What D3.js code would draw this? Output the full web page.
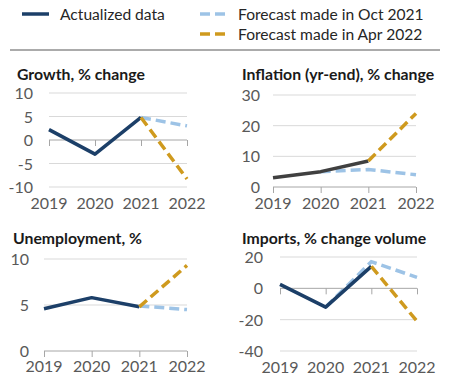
<!DOCTYPE html>
<html lang="en">

<head>
    <meta charset="UTF-8">
    <title>Forecast panels</title>
    <script src="https://d3js.org/d3.v7.min.js"></script>
    <style>
        body { margin: 0; background: #fff; }
        text { font-family: Lato, "Open Sans", sans-serif; }
    </style>
</head>

<body>
    <script>
        var years = [2019, 2020, 2021, 2022];

        // actualized, Oct 2021 forecast, Apr 2022 forecast (null = no point)
        var growthActual = [2.2, -3, 4.8, null];
        var growthOct = [null, null, 4.8, 3];
        var growthApr = [null, null, 4.8, -8.3];

        var inflationActual = [3, 5, 8.5, null];
        var inflationOct = [null, 5, 5.7, 4];
        var inflationApr = [null, null, 8.5, 24];

        var unempActual = [4.6, 5.8, 4.8, null];
        var unempOct = [null, null, 4.9, 4.5];
        var unempApr = [null, null, 4.8, 9.3];

        var importsActual = [2.5, -12, 14, null];
        var importsOct = [null, -12, 17, 7];
        var importsApr = [null, null, 14, -21];

        var growthTicks = [-10, -5, 0, 5, 10];
        var inflationTicks = [0, 10, 20, 30];
        var unempTicks = [0, 5, 10];
        var importsTicks = [-40, -20, 0, 20];

        var legendLabels = ["Actualized data", "Forecast made in Oct 2021", "Forecast made in Apr 2022"];

        var width = 457, height = 382;
        var navy = "#1c3f68", blue = "#9dc3e6", gold = "#cf9a1e", darkGray = "#404040";

        var svg = d3.select("body").append("svg")
            .attr("width", width)
            .attr("height", height);

        // legend
        var legend = [
            { x: 22, y: 14, color: navy, dash: null, label: legendLabels[0] },
            { x: 200, y: 14, color: blue, dash: "10,5", label: legendLabels[1] },
            { x: 200, y: 34, color: gold, dash: "10,5", label: legendLabels[2] }
        ];
        var lg = svg.selectAll("g.legend").data(legend).enter().append("g").attr("class", "legend");
        lg.append("line")
            .attr("x1", d => d.x).attr("x2", d => d.x + 27)
            .attr("y1", d => d.y).attr("y2", d => d.y)
            .attr("stroke", d => d.color).attr("stroke-width", 3.5)
            .attr("stroke-dasharray", d => d.dash);
        lg.append("text")
            .attr("x", d => d.x + 38).attr("y", d => d.y + 5.5)
            .attr("font-size", 15.6).attr("fill", "#262626")
            .text(d => d.label);
        svg.append("line")
            .attr("x1", 10).attr("x2", 440).attr("y1", 50).attr("y2", 50)
            .attr("stroke", "#595959").attr("stroke-width", 1.2);

        var panels = [
            { title: "Growth, % change", tx: 17, ty: 80, x0: 49, x1: 187, y0: 187, y1: 93, ticks: growthTicks, labelY: 209, yOff: 16,
              actual: growthActual, actualColor: navy, oct: growthOct, apr: growthApr },
            { title: "Inflation (yr-end), % change", tx: 242, ty: 80, x0: 273, x1: 416, y0: 187, y1: 95, ticks: inflationTicks, labelY: 209, yOff: 13,
              actual: inflationActual, actualColor: darkGray, oct: inflationOct, apr: inflationApr },
            { title: "Unemployment, %", tx: 13, ty: 244, x0: 44, x1: 187, y0: 351, y1: 259, ticks: unempTicks, labelY: 372, yOff: 15,
              actual: unempActual, actualColor: navy, oct: unempOct, apr: unempApr },
            { title: "Imports, % change volume", tx: 242, ty: 244, x0: 280, x1: 417, y0: 351, y1: 257, ticks: importsTicks, labelY: 373, yOff: 17,
              actual: importsActual, actualColor: navy, oct: importsOct, apr: importsApr }
        ];

        panels.forEach(function (p) {
            var g = svg.append("g");
            var x = d3.scalePoint().domain(years).range([p.x0, p.x1]);
            var y = d3.scaleLinear().domain(d3.extent(p.ticks)).range([p.y0, p.y1]);

            g.append("text")
                .attr("x", p.tx).attr("y", p.ty)
                .attr("font-size", 15.8).attr("font-weight", "bold").attr("fill", "#1a1a1a")
                .text(p.title);

            // gridlines
            g.selectAll("line.grid").data(p.ticks.filter(t => t !== 0)).enter().append("line")
                .attr("x1", p.x0).attr("x2", p.x1)
                .attr("y1", d => y(d)).attr("y2", d => y(d))
                .attr("stroke", "#d9d9d9").attr("stroke-width", 1);

            // y labels (plain hyphen for negatives, like the original)
            var yAxis = g.append("g")
                .attr("transform", "translate(" + (p.x0 - p.yOff) + ",0)")
                .call(d3.axisLeft(y).tickValues(p.ticks).tickSize(0).tickPadding(0).tickFormat(d => String(d)));
            yAxis.select(".domain").remove();
            yAxis.selectAll("text").attr("font-size", 16).attr("fill", "#595959").attr("dy", "0.35em");

            // zero axis with ticks
            var zero = g.append("g")
                .attr("transform", "translate(0," + y(0) + ")")
                .call(d3.axisBottom(x).tickSize(6).tickSizeOuter(0).tickFormat(""));
            zero.select(".domain").attr("stroke", "#a6a6a6").attr("d", "M" + p.x0 + ",0H" + p.x1);
            zero.selectAll(".tick line").attr("stroke", "#a6a6a6");

            // x labels at bottom
            g.selectAll("text.xl").data(years).enter().append("text")
                .attr("class", "xl")
                .attr("x", d => x(d)).attr("y", p.labelY)
                .attr("text-anchor", "middle")
                .attr("font-size", 16).attr("fill", "#595959")
                .text(d => d);

            var line = d3.line()
                .defined(d => d.v !== null)
                .x(d => x(d.year)).y(d => y(d.v));
            function series(vals) { return years.map((yr, i) => ({ year: yr, v: vals[i] })); }

            g.append("path").datum(series(p.oct))
                .attr("fill", "none").attr("stroke", blue).attr("stroke-width", 3.5)
                .attr("stroke-dasharray", "10,5").attr("d", line);
            g.append("path").datum(series(p.actual))
                .attr("fill", "none").attr("stroke", p.actualColor).attr("stroke-width", 3.5)
                .attr("stroke-linejoin", "round").attr("d", line);
            g.append("path").datum(series(p.apr))
                .attr("fill", "none").attr("stroke", gold).attr("stroke-width", 3.5)
                .attr("stroke-dasharray", "10,5").attr("d", line);
        });
    </script>
</body>

</html>
